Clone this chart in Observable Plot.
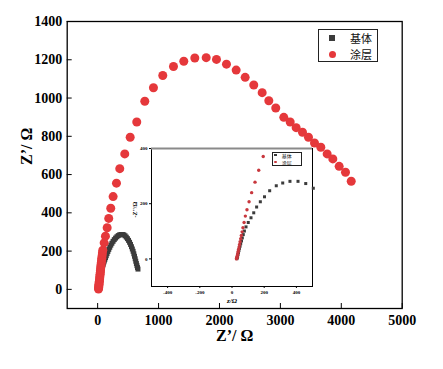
<!DOCTYPE html>
<html><head><meta charset="utf-8">
<script src="https://cdn.jsdelivr.net/npm/d3@7"></script>
<script src="https://cdn.jsdelivr.net/npm/@observablehq/plot@0.6"></script>
<style>
html,body{margin:0;padding:0;background:#fff;}
#wrap{position:relative;width:443px;height:369px;overflow:hidden;background:#fff;}
#inset{position:absolute;left:125.7px;top:142.7px;}
.leg{position:absolute;box-sizing:border-box;border:1px solid #222;background:#fff;font-family:"Noto Sans CJK SC",sans-serif;color:#111;}
.leg span{position:absolute;white-space:nowrap;}
</style></head><body><div id="wrap"></div>
<script>
// ---- data ----
const seriesNames = ["基体", "涂层"];
const xLabel = "Z\u2019/ \u03A9";
const yLabel = "Z\u2019/ \u03A9";
const insetXLabel = "z/\u03A9";
const insetYLabel = "-Z''/\u03A9";

const mainXTicks = [0, 1000, 2000, 3000, 4000, 5000];
const mainYTicks = [0, 200, 400, 600, 800, 1000, 1200, 1400];
const insetXTicks = [-400, -200, 0, 200, 400];
const insetYTicks = [0, 200, 400];

// main chart, 基体 (substrate)
const baseRe = [22,24,26,29,32,35,39,43,47,52,57,62,68,75,83,91,99,108,118,129,141,154,168,183,199,216,234,253,273,294,316,338,361,384,407,429,450,470,489,507,524,540,555,569,582,594,605,616,626,636,645,654,662];
const baseIm = [0,8,16,25,34,43,52,61,70,79,88,97,106,115,124,132,140,148,157,166,176,187,198,209,220,231,241,251,260,268,275,281,285,287,287,285,280,273,265,256,246,235,223,211,199,186,173,160,147,135,124,114,106];

// main chart, 涂层 (coating)
const coatRe = [14,16,18,20,22,25,28,31,34,37,40,43,46,49,52,56,60,64,68,73,78,84,107,128,156,182,215,254,309,363,445,534,642,774,916,1069,1245,1414,1595,1782,1951,2115,2274,2422,2563,2701,2810,2924,3056,3161,3259,3363,3461,3560,3664,3768,3861,3965,4069,4163];
const coatIm = [2,7,13,20,27,35,43,52,61,70,79,88,98,108,118,129,140,151,163,176,190,205,243,278,322,371,424,485,555,631,708,795,875,983,1054,1118,1165,1192,1209,1211,1202,1177,1146,1108,1068,1028,986,948,899,875,845,821,795,765,743,708,682,643,612,565];

// inset, 基体
const insetBaseRe = [31,33,35,37,40,43,46,50,54,59,64,70,77,87,101,118,135,153,176,202,234,275,315,360,410,458,505];
const insetBaseIm = [1,5,10,16,23,30,38,46,55,65,76,88,101,116,132,149,167,188,207,225,247,265,275,281,281,273,256];

// inset, 涂层
const insetCoatRe = [28,29,30,31,33,35,37,39,41,44,47,50,54,58,63,68,75,83,93,106,122,143,166,194];
const insetCoatIm = [0,2,4,7,11,16,22,28,35,43,52,62,73,85,98,113,132,155,178,207,240,278,321,371];

// ---- build tables ----
const toRows = (re, im) => re.map((r, i) => ({re: r, im: im[i]}));
const baseRows = toRows(baseRe, baseIm);
const coatRows = toRows(coatRe, coatIm);
const insetBaseRows = toRows(insetBaseRe, insetBaseIm);
const insetCoatRows = toRows(insetCoatRe, insetCoatIm);

const colBase = "#3b3b3b";
const colCoat = "#e5383b";
const colCoatInset = "#c8373d";
const serif = '"Liberation Serif","Times New Roman",serif';
const plain = d => String(d);

const mainChart = Plot.plot({
  width: 443, height: 369,
  marginLeft: 66.7, marginRight: 41.3, marginTop: 21, marginBottom: 61,
  x: {domain: [-500, 5000]},
  y: {domain: [-100, 1400]},
  style: {background: "white", color: "black", fontFamily: serif, fontSize: "14px", fontWeight: "bold", overflow: "visible"},
  marks: [
    Plot.tickX(mainXTicks, {x: d => d, insetTop: 282, stroke: "black"}),
    Plot.tickY(mainYTicks, {y: d => d, insetRight: 330, stroke: "black"}),
    Plot.axisX(mainXTicks, {tickSize: 0, tickPadding: 7, label: null, tickFormat: plain}),
    Plot.axisY(mainYTicks, {tickSize: 0, tickPadding: 5, label: null, tickFormat: plain}),
    Plot.text([xLabel], {text: d => d, frameAnchor: "bottom", dy: 32.5, fontSize: 16, fontWeight: "bold"}),
    Plot.text([yLabel], {text: d => d, frameAnchor: "left", dx: -40, rotate: -90, fontSize: 16, fontWeight: "bold"}),
    Plot.dot(baseRows, {x: "re", y: "im", symbol: "square", r: 2.8, fill: colBase}),
    Plot.dot(coatRows, {x: "re", y: "im", r: 4.5, fill: colCoat}),
    Plot.frame({stroke: "black", strokeWidth: 1.3})
  ]
});

const insetChart = Plot.plot({
  width: 191, height: 168,
  marginLeft: 25, marginRight: 5, marginTop: 5, marginBottom: 25,
  x: {domain: [-500, 500]},
  y: {domain: [-100, 400]},
  style: {background: "transparent", color: "black", fontFamily: serif, fontSize: "5px", fontWeight: "bold", overflow: "visible"},
  marks: [
    Plot.frame({fill: "white", stroke: "black", strokeWidth: 1}),
    Plot.ruleY([400], {stroke: "#8a8a8a", strokeWidth: 2}),
    Plot.axisX(insetXTicks, {tickSize: 2, tickPadding: 2, label: null, tickFormat: plain}),
    Plot.axisY(insetYTicks, {tickSize: 2, tickPadding: 2, label: null, tickFormat: plain}),
    Plot.text([insetXLabel], {text: d => d, frameAnchor: "bottom", dy: 16, fontSize: 7, fontStyle: "italic", fontWeight: "bold"}),
    Plot.text([insetYLabel], {text: d => d, frameAnchor: "left", dx: -16.7, rotate: -90, fontSize: 6, fontWeight: "bold"}),
    Plot.dot(insetBaseRows, {x: "re", y: "im", symbol: "square", r: 1.7, fill: colBase}),
    Plot.dot(insetCoatRows, {x: "re", y: "im", r: 1.7, fill: colCoatInset})
  ]
});
insetChart.id = "inset";

const wrap = document.getElementById("wrap");
wrap.appendChild(mainChart);
wrap.appendChild(insetChart);

// ---- legends ----
function legend(box, items) {
  const div = document.createElement("div");
  div.className = "leg";
  Object.assign(div.style, {left: box.left + "px", top: box.top + "px", width: box.w + "px", height: box.h + "px", fontSize: box.fs + "px"});
  items.forEach((it, i) => {
    const m = document.createElement("span");
    const s = it.size;
    Object.assign(m.style, {left: (box.mx - s / 2) + "px", top: (box.rows[i] - s / 2) + "px", width: s + "px", height: s + "px", background: it.color, borderRadius: it.round ? "50%" : "0"});
    div.appendChild(m);
    const t = document.createElement("span");
    t.textContent = it.name;
    Object.assign(t.style, {left: box.tx + "px", top: (box.rows[i] - box.fs / 2) + "px", lineHeight: box.fs + "px", height: box.fs + "px"});
    div.appendChild(t);
  });
  wrap.appendChild(div);
}
legend({left: 318, top: 29, w: 60, h: 33, fs: 11, mx: 13, tx: 31, rows: [8, 24]},
  [{name: seriesNames[0], color: colBase, size: 6, round: false},
   {name: seriesNames[1], color: colCoat, size: 7, round: true}]);
legend({left: 271.7, top: 151.5, w: 30, h: 14, fs: 5, mx: 3, tx: 9, rows: [2.5, 9.5]},
  [{name: seriesNames[0], color: colBase, size: 2.5, round: false},
   {name: seriesNames[1], color: colCoatInset, size: 2.8, round: true}]);
</script>
</body></html>
